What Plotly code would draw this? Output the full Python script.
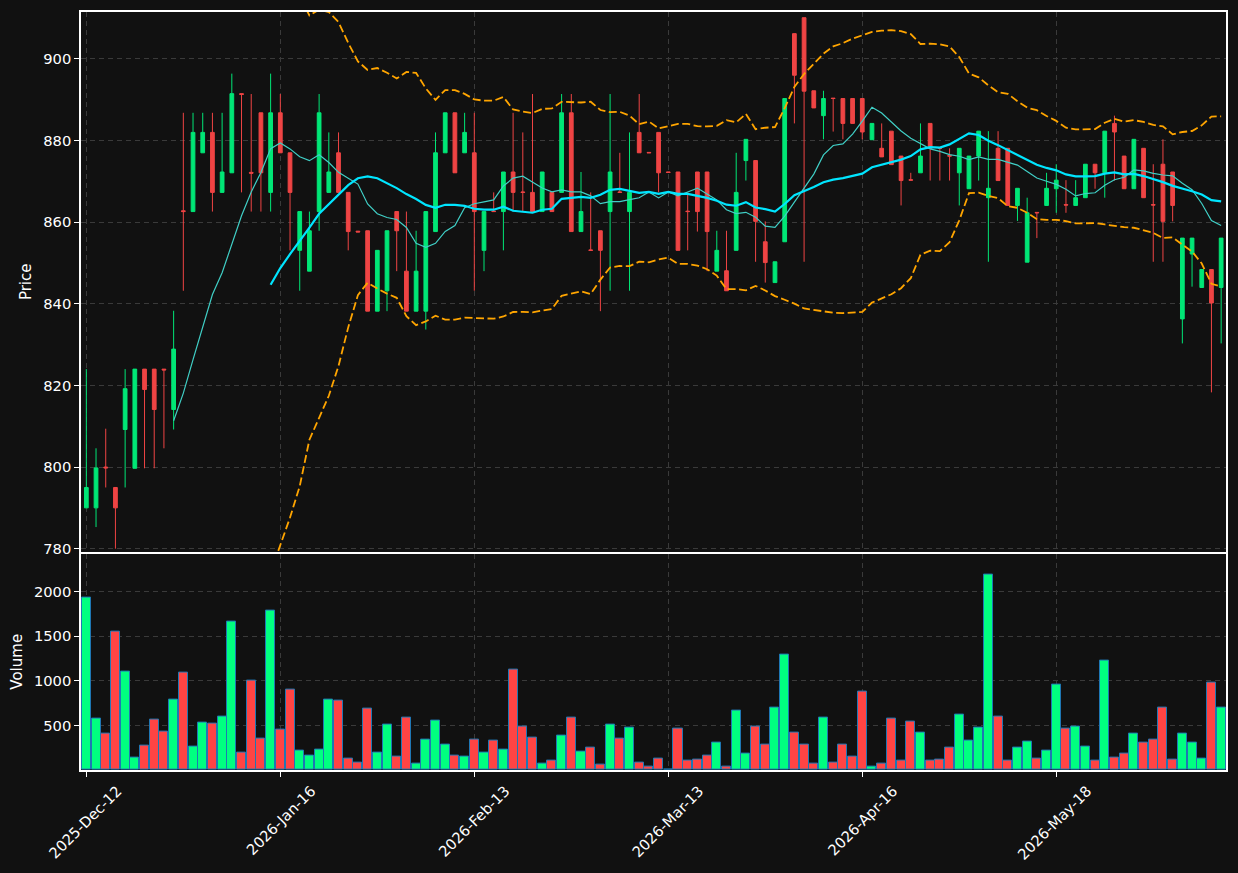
import plotly.graph_objects as go
import pandas as pd

tick_index = [0, 20, 40, 60, 80, 100]
tick_labels = ["2025-Dec-12", "2026-Jan-16", "2026-Feb-13", "2026-Mar-13", "2026-Apr-16", "2026-May-18"]

opens = [790.0, 790.0, 800.0, 795.0, 809.2, 799.7, 824.0, 824.0, 824.0, 814.1,
         862.8, 862.6, 877.0, 882.0, 867.3, 872.1, 891.5, 872.2, 886.8, 867.3,
         886.8, 877.0, 853.1, 848.0, 862.6, 867.3, 877.0, 867.3, 857.8, 857.9,
         838.2, 843.2, 862.6, 848.0, 838.2, 838.2, 857.7, 877.0, 886.8, 877.0,
         877.0, 853.1, 862.7, 862.6, 872.3, 867.4, 867.3, 862.6, 867.3, 867.3,
         886.8, 857.7, 853.2, 857.9, 862.6, 867.4, 862.6, 882.0, 877.1, 882.0,
         872.3, 872.3, 862.7, 872.3, 872.3, 848.0, 848.1, 853.1, 875.1, 875.1,
         855.2, 845.2, 855.2, 906.2, 910.1, 892.2, 886.1, 890.4, 890.3, 890.3,
         890.3, 880.2, 878.1, 882.3, 876.2, 870.4, 872.1, 884.2, 878.2, 876.3,
         872.1, 868.2, 876.2, 866.0, 878.1, 878.1, 864.1, 850.2, 862.4, 864.1,
         868.2, 864.3, 864.1, 866.0, 874.2, 872.1, 884.2, 876.2, 868.2, 878.1,
         864.3, 874.2, 872.3, 836.3, 852.2, 844.0, 848.4, 844.0]
highs = [824.0, 804.6, 809.4, 795.0, 824.0, 824.0, 824.0, 824.0, 824.0, 838.3,
         886.8, 886.8, 886.8, 886.8, 886.8, 896.4, 891.5, 891.4, 886.8, 896.4,
         891.4, 877.0, 862.6, 862.6, 891.4, 882.0, 882.0, 867.3, 857.8, 857.9,
         853.1, 857.9, 862.6, 862.6, 857.9, 862.6, 882.0, 886.8, 886.8, 886.8,
         886.8, 862.6, 867.3, 872.3, 886.8, 882.0, 891.4, 872.3, 867.3, 891.4,
         891.4, 872.3, 867.3, 857.9, 891.4, 877.0, 882.0, 891.4, 877.1, 882.0,
         872.3, 872.3, 867.3, 872.3, 872.3, 857.9, 857.9, 877.0, 880.3, 875.1,
         860.2, 850.3, 890.3, 906.2, 910.1, 892.2, 892.2, 890.4, 890.3, 890.3,
         890.3, 884.2, 884.2, 882.3, 876.2, 872.1, 884.2, 884.2, 878.2, 878.1,
         878.1, 876.2, 882.3, 882.3, 882.3, 878.1, 868.3, 866.0, 862.4, 872.1,
         874.2, 870.3, 870.3, 874.2, 874.2, 882.3, 886.1, 876.2, 880.3, 878.1,
         874.2, 880.3, 872.3, 856.1, 856.1, 848.4, 848.4, 856.1]
lows = [790.0, 785.3, 795.0, 780.0, 795.0, 799.7, 799.7, 799.7, 804.6, 809.2,
        843.2, 862.6, 877.0, 862.6, 867.3, 872.1, 867.3, 862.6, 862.6, 862.6,
        877.0, 853.1, 843.2, 848.0, 857.9, 867.3, 867.3, 853.1, 857.6, 838.2,
        838.2, 838.2, 848.0, 838.2, 838.2, 833.7, 857.7, 877.0, 872.1, 877.0,
        843.2, 848.0, 862.6, 853.1, 862.6, 862.6, 862.6, 862.6, 862.6, 867.3,
        857.7, 857.7, 853.1, 838.2, 843.2, 867.3, 843.2, 877.0, 877.0, 867.3,
        872.2, 853.1, 853.1, 857.7, 848.0, 848.0, 843.2, 853.1, 870.2, 850.3,
        845.2, 845.2, 855.2, 884.2, 850.3, 888.0, 880.3, 882.2, 880.3, 884.2,
        880.3, 880.2, 876.0, 874.1, 864.1, 870.3, 872.1, 870.2, 870.2, 870.2,
        864.1, 868.2, 870.2, 850.3, 870.2, 864.1, 860.3, 850.2, 856.1, 864.1,
        862.3, 862.3, 864.1, 866.0, 868.2, 866.0, 870.2, 868.2, 868.2, 866.0,
        850.3, 850.3, 860.2, 830.3, 844.2, 844.0, 818.3, 830.3]
closes = [795.0, 799.8, 799.8, 790.0, 819.2, 824.0, 819.0, 814.1, 823.8, 828.9,
          862.6, 882.0, 882.0, 867.3, 872.3, 891.5, 891.3, 872.0, 872.1, 886.8,
          877.0, 867.3, 862.6, 857.9, 886.8, 872.3, 867.3, 857.7, 857.6, 838.2,
          853.1, 857.9, 857.9, 838.2, 848.0, 862.6, 877.0, 886.8, 872.1, 882.0,
          862.6, 862.6, 862.6, 872.3, 867.3, 867.3, 862.6, 872.3, 862.6, 886.8,
          857.7, 862.6, 853.1, 853.1, 872.3, 867.3, 867.3, 877.0, 877.0, 872.1,
          872.2, 853.1, 862.6, 862.6, 857.7, 853.1, 843.2, 867.3, 880.3, 860.2,
          850.1, 850.3, 890.3, 896.0, 892.1, 888.0, 890.3, 890.3, 884.2, 884.2,
          882.1, 884.2, 876.0, 874.1, 870.2, 870.3, 876.2, 878.1, 878.1, 876.2,
          878.1, 876.2, 882.3, 868.3, 870.2, 864.1, 868.3, 862.3, 862.3, 868.3,
          870.3, 864.2, 866.0, 874.2, 872.1, 882.3, 882.1, 868.2, 880.3, 866.0,
          864.2, 860.2, 864.1, 856.1, 856.1, 848.4, 840.2, 856.1]
volumes = [1930, 574, 407, 1552, 1107, 141, 274, 563, 430, 785,
           1096, 263, 530, 519, 596, 1663, 196, 1007, 352, 1785,
           452, 896, 219, 163, 230, 785, 774, 130, 85, 685,
           196, 507, 152, 585, 74, 341, 552, 285, 163, 152,
           341, 193, 330, 230, 1130, 485, 363, 70, 107, 385,
           585, 207, 252, 63, 507, 352, 474, 85, 41, 130,
           5, 463, 107, 119, 163, 307, 41, 663, 185, 485,
           285, 696, 1296, 419, 285, 74, 585, 85, 285, 152,
           874, 41, 74, 574, 107, 541, 419, 107, 119, 252,
           619, 330, 474, 2185, 596, 107, 252, 319, 130, 219,
           952, 463, 485, 263, 107, 1230, 141, 185, 407, 307,
           341, 696, 119, 407, 307, 130, 985, 696]

x = list(range(len(closes)))
close_s = pd.Series(closes)
ma10 = close_s.rolling(10).mean()
ma20 = close_s.rolling(20).mean()
sd20 = close_s.rolling(20).std(ddof=0)
bb_up = ma20 + 2 * sd20
bb_lo = ma20 - 2 * sd20

GREEN_C = "#00e676"
RED_C = "#ef4444"
GREEN_V = "#00ff80"
RED_V = "#ff4444"
vol_colors = [GREEN_V if c >= o else RED_V for o, c in zip(opens, closes)]

fig = go.Figure()
fig.add_trace(go.Candlestick(
    x=x, open=opens, high=highs, low=lows, close=closes,
    increasing=dict(line=dict(color=GREEN_C, width=1), fillcolor=GREEN_C),
    decreasing=dict(line=dict(color=RED_C, width=1), fillcolor=RED_C),
    whiskerwidth=0, xaxis="x", yaxis="y", showlegend=False, name="Price"))
fig.add_trace(go.Scatter(x=x, y=ma10, mode="lines", line=dict(color="#40cfc6", width=1.2),
                         xaxis="x", yaxis="y", showlegend=False, name="MA10"))
fig.add_trace(go.Scatter(x=x, y=ma20, mode="lines", line=dict(color="#00e5ff", width=2.2),
                         xaxis="x", yaxis="y", showlegend=False, name="MA20"))
fig.add_trace(go.Scatter(x=x, y=bb_up, mode="lines", line=dict(color="#ffa500", width=1.8, dash="8px,3.5px"),
                         xaxis="x", yaxis="y", showlegend=False, name="BB Upper"))
fig.add_trace(go.Scatter(x=x, y=bb_lo, mode="lines", line=dict(color="#ffa500", width=1.8, dash="8px,3.5px"),
                         xaxis="x", yaxis="y", showlegend=False, name="BB Lower"))
fig.add_trace(go.Bar(x=x, y=volumes, marker=dict(color=vol_colors, line=dict(color="#1f77b4", width=1)),
                     width=0.93, xaxis="x2", yaxis="y2", showlegend=False, name="Volume"))

FONT = "DejaVu Sans"
GRID = "#3a3a3a"
axis_common = dict(showline=True, linecolor="#ffffff", linewidth=1.5, mirror=True,
                   ticks="outside", tickcolor="#ffffff", ticklen=5, tickwidth=1,
                   showgrid=True, gridcolor=GRID, griddash="5px,4px", gridwidth=1,
                   zeroline=False, tickfont=dict(color="#ffffff", size=14.7, family=FONT))
xr = [-0.55, 117.5]
fig.update_layout(
    width=1238, height=873,
    paper_bgcolor="#111111", plot_bgcolor="#111111",
    margin=dict(l=81, r=11, t=10, b=103),
    boxgap=0.45,
    bargap=0,
    font=dict(family=FONT, color="#ffffff", size=14.7),
    xaxis=dict(axis_common, domain=[0, 1], anchor="y", range=xr, tickvals=tick_index,
               ticktext=tick_labels, showticklabels=False, rangeslider=dict(visible=False),
               matches="x2"),
    yaxis=dict(axis_common, domain=[0.2882, 1], anchor="x", range=[779.3, 911.5],
               tickvals=[780, 800, 820, 840, 860, 880, 900],
               title=dict(text="Price", font=dict(size=15, color="#ffffff", family=FONT), standoff=8)),
    xaxis2=dict(axis_common, domain=[0, 1], anchor="y2", range=xr, tickvals=tick_index,
                ticktext=tick_labels, tickangle=-45, ticklabelshift=31),
    yaxis2=dict(axis_common, domain=[0, 0.2855], anchor="x2", range=[0, 2425],
                tickvals=[500, 1000, 1500, 2000], tickformat="d",
                title=dict(text="Volume", font=dict(size=15, color="#ffffff", family=FONT), standoff=8)),
)
fig.write_html("out.html")
